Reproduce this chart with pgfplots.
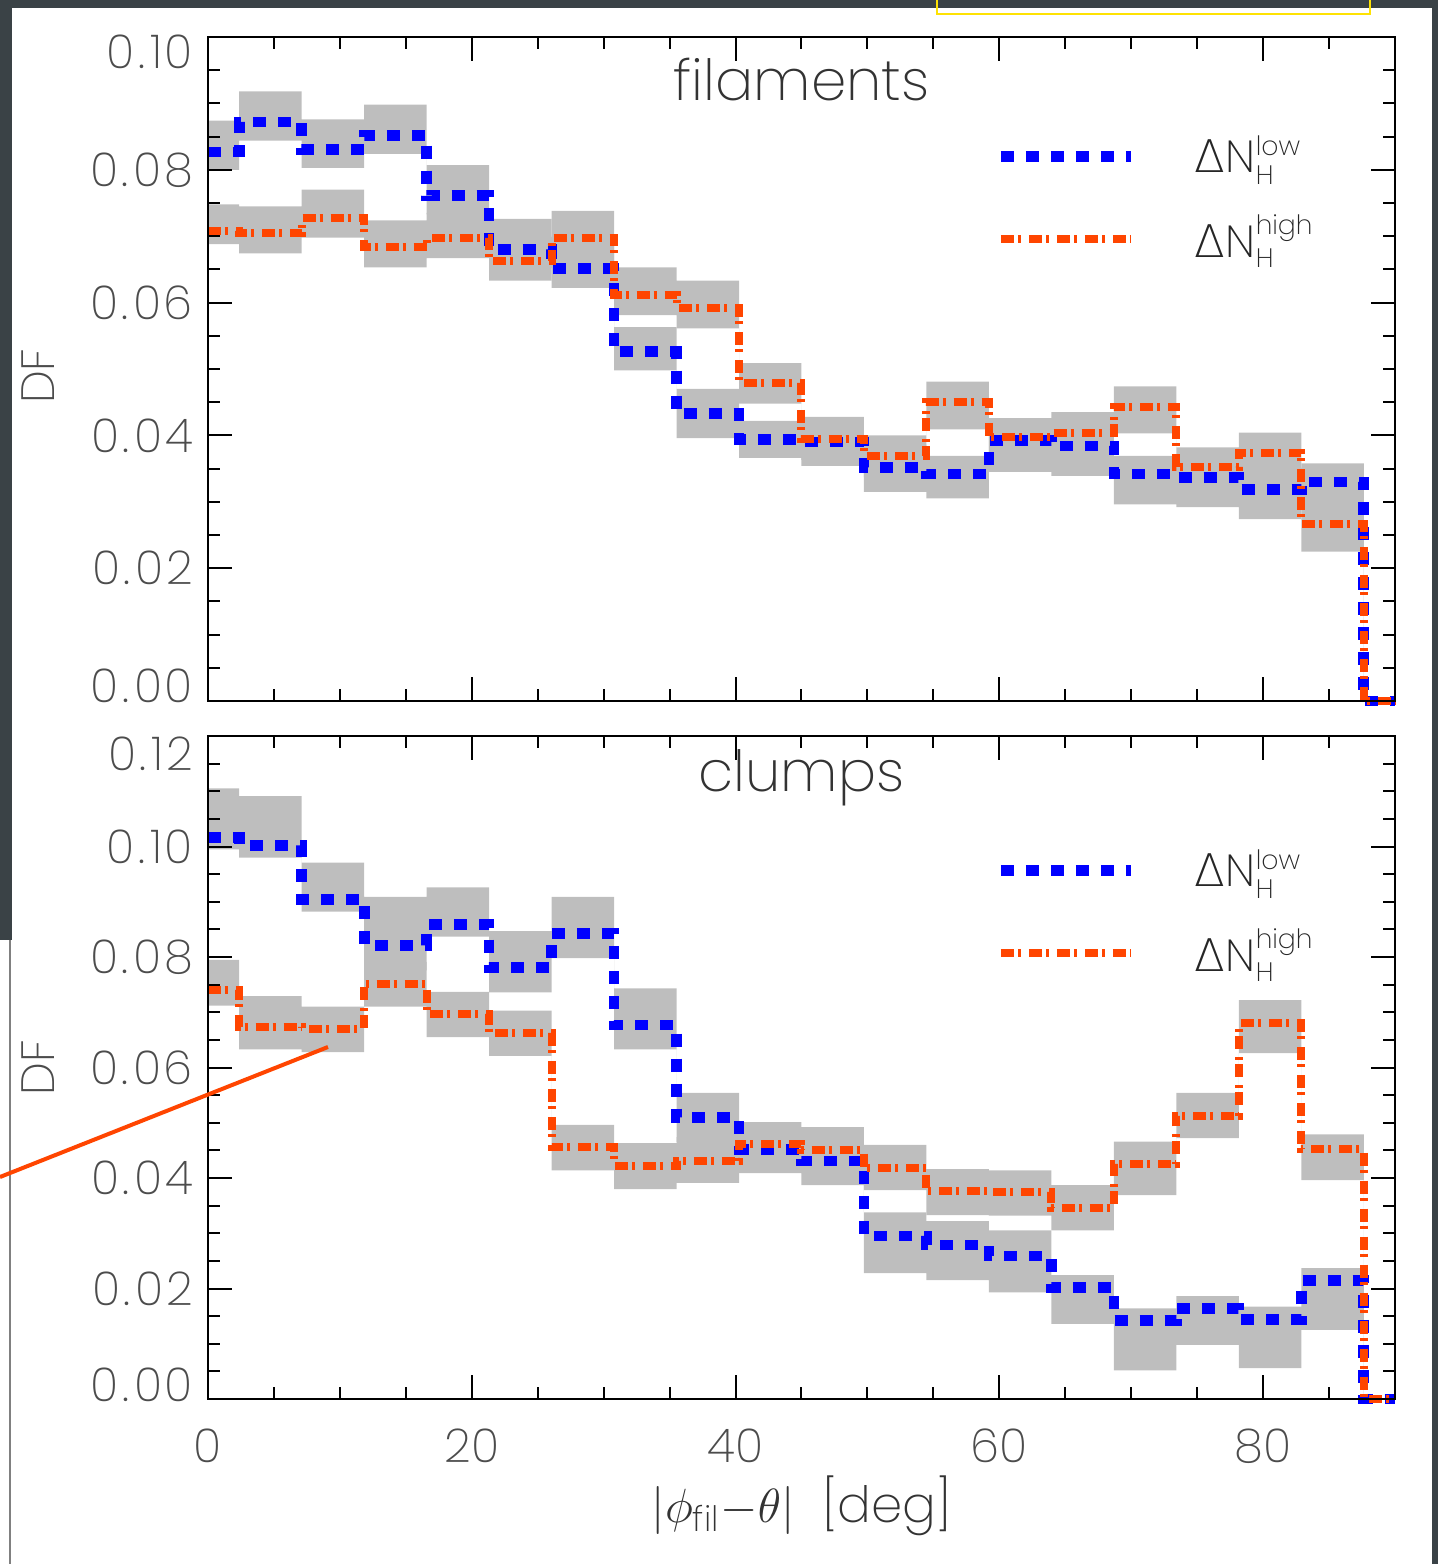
\documentclass[border=0pt]{standalone}
\usepackage{fontspec}
\IfFontExistsTF{Poppins ExtraLight}{\setmainfont{Poppins ExtraLight}}{%
 \IfFontExistsTF{Poppins-ExtraLight.ttf}{\setmainfont{Poppins-ExtraLight.ttf}}{%
  \IfFontExistsTF{Poppins Light}{\setmainfont{Poppins Light}}{%
   \IfFontExistsTF{Poppins-Light.ttf}{\setmainfont{Poppins-Light.ttf}}{\setmainfont{Poppins}}}}}
\IfFontExistsTF{DejaVu Sans ExtraLight}{\newfontfamily\dv{DejaVu Sans ExtraLight}}{\newfontfamily\dv{DejaVu Sans}}
\usepackage{amsmath}
\usepackage{pgfplots}
\pgfplotsset{compat=1.18}
\usepackage{pgfplotstable}
\definecolor{lowblue}{RGB}{0,0,255}
\definecolor{highorange}{RGB}{255,69,0}
\definecolor{bandgray}{RGB}{190,190,190}
\definecolor{darkbg}{RGB}{58,66,70}

% ---- filaments: histogram values ----
\pgfplotstableread{
x low high
0 0.0827 0.0708
4.7368 0.0872 0.0705
9.4737 0.0831 0.0728
14.2105 0.0852 0.0684
18.9474 0.0761 0.0698
23.6842 0.0680 0.0663
28.4211 0.0651 0.0698
33.1579 0.0526 0.0612
37.8947 0.0433 0.0592
42.6316 0.0394 0.0479
47.3684 0.0390 0.0395
52.1053 0.0352 0.0369
56.8421 0.0342 0.0450
61.5789 0.0392 0.0397
66.3158 0.0384 0.0404
71.0526 0.0342 0.0443
75.7895 0.0337 0.0352
80.5263 0.0319 0.0373
85.2632 0.0330 0.0266
90 0 0
}\toptab
% ---- filaments: uncertainty bands (upper edge forward, lower edge back) ----
\pgfplotstableread{
x y
0 0.0874
4.7368 0.0918
9.4737 0.0876
14.2105 0.0898
18.9474 0.0807
23.6842 0.0726
28.4211 0.0694
33.1579 0.0563
37.8947 0.0470
42.6316 0.0422
47.3684 0.0420
52.1053 0.0386
56.8421 0.0369
61.5789 0.0416
66.3158 0.0405
71.0526 0.0369
75.7895 0.0370
80.5263 0.0351
85.2632 0.0358
90 0
90 0
85.2632 0.0295
80.5263 0.0274
75.7895 0.0292
71.0526 0.0296
66.3158 0.0339
61.5789 0.0345
56.8421 0.0305
52.1053 0.0315
47.3684 0.0354
42.6316 0.0366
37.8947 0.0396
33.1579 0.0498
28.4211 0.0622
23.6842 0.0652
18.9474 0.0733
14.2105 0.0824
9.4737 0.0803
4.7368 0.0844
0 0.0800
}\toplowband
\pgfplotstableread{
x y
0 0.0748
4.7368 0.0745
9.4737 0.0770
14.2105 0.0724
18.9474 0.0735
23.6842 0.0699
28.4211 0.0738
33.1579 0.0653
37.8947 0.0633
42.6316 0.0509
47.3684 0.0428
52.1053 0.0400
56.8421 0.0481
61.5789 0.0426
66.3158 0.0435
71.0526 0.0474
75.7895 0.0382
80.5263 0.0404
85.2632 0.0295
90 0
90 0
85.2632 0.0225
80.5263 0.0342
75.7895 0.0318
71.0526 0.0403
66.3158 0.0370
61.5789 0.0363
56.8421 0.0409
52.1053 0.0337
47.3684 0.0363
42.6316 0.0448
37.8947 0.0561
33.1579 0.0581
28.4211 0.0667
23.6842 0.0633
18.9474 0.0667
14.2105 0.0653
9.4737 0.0698
4.7368 0.0674
0 0.0688
}\tophighband

% ---- clumps: histogram values ----
\pgfplotstableread{
x low high
0 0.1016 0.0740
4.7368 0.1002 0.0674
9.4737 0.0904 0.0670
14.2105 0.0821 0.0751
18.9474 0.0859 0.0696
23.6842 0.0781 0.0662
28.4211 0.0843 0.0457
33.1579 0.0677 0.0422
37.8947 0.0509 0.0431
42.6316 0.0452 0.0461
47.3684 0.0431 0.0451
52.1053 0.0295 0.0419
56.8421 0.0279 0.0377
61.5789 0.0259 0.0374
66.3158 0.0202 0.0346
71.0526 0.0142 0.0425
75.7895 0.0164 0.0513
80.5263 0.0144 0.0680
85.2632 0.0214 0.0452
90 0 0
}\bottab
\pgfplotstableread{
x y
0 0.1105
4.7368 0.1091
9.4737 0.0971
14.2105 0.0909
18.9474 0.0926
23.6842 0.0847
28.4211 0.0909
33.1579 0.0743
37.8947 0.0554
42.6316 0.0491
47.3684 0.0472
52.1053 0.0338
56.8421 0.0322
61.5789 0.0305
66.3158 0.0224
71.0526 0.0164
75.7895 0.0186
80.5263 0.0167
85.2632 0.0237
90 0
90 0
85.2632 0.0125
80.5263 0.0056
75.7895 0.0098
71.0526 0.0052
66.3158 0.0136
61.5789 0.0193
56.8421 0.0215
52.1053 0.0228
47.3684 0.0387
42.6316 0.0409
37.8947 0.0465
33.1579 0.0633
28.4211 0.0798
23.6842 0.0736
18.9474 0.0837
14.2105 0.0776
9.4737 0.0882
4.7368 0.0980
0 0.0995
}\botlowband
\pgfplotstableread{
x y
0 0.0795
4.7368 0.0729
9.4737 0.0710
14.2105 0.0791
18.9474 0.0737
23.6842 0.0703
28.4211 0.0496
33.1579 0.0463
37.8947 0.0474
42.6316 0.0501
47.3684 0.0492
52.1053 0.0460
56.8421 0.0416
61.5789 0.0414
66.3158 0.0387
71.0526 0.0466
75.7895 0.0554
80.5263 0.0722
85.2632 0.0479
90 0
90 0
85.2632 0.0396
80.5263 0.0626
75.7895 0.0472
71.0526 0.0369
66.3158 0.0305
61.5789 0.0332
56.8421 0.0333
52.1053 0.0378
47.3684 0.0411
42.6316 0.0423
37.8947 0.0391
33.1579 0.0380
28.4211 0.0414
23.6842 0.0621
18.9474 0.0655
14.2105 0.0710
9.4737 0.0628
4.7368 0.0633
0 0.0712
}\bothighband

% spaced y tick label, e.g. \yl{0}{1}{0} -> 0 . 1 0
\newcommand{\yl}[3]{#1\kern1.0pt.\kern1.4pt#2\kern0.8pt#3}

\pgfplotsset{
  panel/.style={
    scale only axis, width=356.1pt,
    xmin=0, xmax=90, clip=false, axis on top,
    axis line style={line width=0.8pt},
    tick style={line width=0.6pt, black},
    xtick={0,20,40,60,80},
    minor xtick={5,10,15,25,30,35,45,50,55,65,70,75,85},
    minor y tick num=3,
    major tick length=7.2pt, minor tick length=3.6pt,
    scaled y ticks=false,
    tick label style={font=\fontsize{14}{16}\selectfont, color=black!70},
    yticklabel style={xshift=-1pt},
    ylabel={DF},
    ylabel style={at={(axis description cs:-0.1432,0.5)}, anchor=center, font=\fontsize{14}{16}\selectfont, color=black!70},
    legend cell align=left,
    legend style={draw=none, fill=none, inner sep=0pt, row sep=7pt,
      font=\fontsize{13.5}{16}\selectfont, text=black!85,
      /tikz/every odd column/.append style={column sep=15.6pt}},
  },
  lowline/.style={lowblue, line width=3.2pt, dash pattern=on 3.9pt off 3.6pt, const plot mark mid},
  highline/.style={highorange, line width=2.4pt, dash pattern=on 3.9pt off 1.2pt on 0.9pt off 2.4pt, const plot mark mid},
  band/.style={fill=bandgray, draw=none, const plot mark mid, forget plot},
}

\newcommand{\scr}[1]{\text{\fontsize{8}{9}\selectfont #1}}
\newcommand{\lowlab}{{\dv Δ}N$^{\scr{low}}_{\scr{H}}$}
\newcommand{\highlab}{{\dv Δ}N$^{\scr{high}}_{\scr{H}}$}

\begin{document}
\begin{tikzpicture}
\useasboundingbox (0,0) rectangle (431.4pt,469.2pt);

% ---------- top panel: filaments ----------
\begin{axis}[panel,
  at={(62.4pt,258.9pt)}, anchor=south west, height=199.2pt,
  ymin=0, ymax=0.1,
  ytick={0,0.02,0.04,0.06,0.08,0.1},
  yticklabels={\raisebox{4.5pt}[\height][\depth]{\yl{0}{0}{0}},\yl{0}{0}{2},\yl{0}{0}{4},\yl{0}{0}{6},\yl{0}{0}{8},\raisebox{-4.5pt}[\height][\depth]{\yl{0}{1}{0}}},
  xticklabel=\empty,
  ylabel style={at={(axis description cs:-0.1432,0.489)}},
  legend image code/.code={\draw[#1] (0pt,0pt) -- (39pt,0pt);},
  legend style={at={(rel axis cs:0.663,0.8625)}, anchor=north west},
]
\addplot[band] table[x=x,y=y] {\toplowband};
\addplot[band] table[x=x,y=y] {\tophighband};
\addplot[lowline] table[x=x,y=low] {\toptab};
\addlegendentry{\lowlab}
\addplot[highline] table[x=x,y=high] {\toptab};
\addlegendentry{\highlab}
\node[anchor=base, font=\fontsize{17}{20}\selectfont, color=black!80] at (rel axis cs:0.5,0.905) {filaments};
\end{axis}

% ---------- bottom panel: clumps ----------
\begin{axis}[panel,
  at={(62.4pt,49.5pt)}, anchor=south west, height=198.9pt,
  ymin=0, ymax=0.12,
  ytick={0,0.02,0.04,0.06,0.08,0.1,0.12},
  yticklabels={\raisebox{4.2pt}[\height][\depth]{\yl{0}{0}{0}},\yl{0}{0}{2},\yl{0}{0}{4},\yl{0}{0}{6},\yl{0}{0}{8},\yl{0}{1}{0},\raisebox{-5.4pt}[\height][\depth]{\yl{0}{1}{2}}},
  xticklabels={0,20,40,60,80},
  xticklabel style={yshift=-5.5pt},
  xlabel={$|\phi_{\text{fil}}{-}\theta|$\ \ [deg]},
  xlabel style={at={(axis description cs:0.5,0)}, anchor=base, yshift=-36.9pt, font=\fontsize{15}{18}\selectfont, color=black!80},
  legend image code/.code={\draw[#1] (0pt,0pt) -- (39pt,0pt);},
  legend style={at={(rel axis cs:0.663,0.8395)}, anchor=north west},
]
\addplot[band] table[x=x,y=y] {\botlowband};
\addplot[band] table[x=x,y=y] {\bothighband};
\addplot[lowline] table[x=x,y=low] {\bottab};
\addlegendentry{\lowlab}
\addplot[highline] table[x=x,y=high] {\bottab};
\addlegendentry{\highlab}
\node[anchor=base, font=\fontsize{17}{20}\selectfont, color=black!80] at (rel axis cs:0.5,0.917) {clumps};
\end{axis}

% ---------- screenshot surroundings ----------
\fill[darkbg] (0pt,466.8pt) rectangle (431.4pt,469.2pt);
\fill[darkbg] (0pt,187.2pt) rectangle (3.6pt,469.2pt);
\fill[darkbg] (429.6pt,0pt) rectangle (431.4pt,469.2pt);
\draw[gray, line width=0.6pt] (3.0pt,0pt) -- (3.0pt,187.2pt);
\draw[yellow!85!orange, line width=0.6pt] (281.1pt,469.2pt) -- (281.1pt,465pt) -- (411pt,465pt) -- (411pt,469.2pt);
\draw[highorange, line width=1.2pt] (0pt,116.1pt) -- (98.4pt,155.1pt);
\end{tikzpicture}
\end{document}
